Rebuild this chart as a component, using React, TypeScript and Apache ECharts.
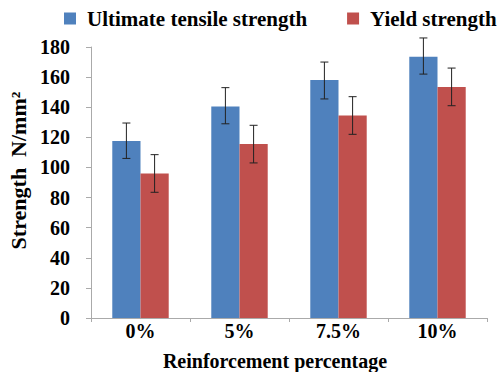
import React, { useEffect, useRef } from "react";
import * as echarts from "echarts";

const categories = ["0%", "5%", "7.5%", "10%"];
const utsValues = [117.5, 140.5, 158, 173.5];
const utsHigh = [129.5, 153, 170, 186];
const utsLow = [106, 129, 145.5, 162];
const ysValues = [96, 115.5, 134.5, 153.5];
const ysHigh = [108.5, 128, 147, 166];
const ysLow = [83.5, 103, 122, 141];

const FONT = "Liberation Serif";
const BLUE = "#4F81BD";
const RED = "#C0504D";
const CAT_GAP = 0.43;

function errorSeries(high: number[], low: number[], side: number) {
  return {
    type: "custom",
    silent: true,
    z: 10,
    data: categories.map((_, i) => [i, low[i], high[i]]),
    encode: { x: 0, y: [1, 2] },
    renderItem: (params: any, api: any) => {
      const idx = api.value(0);
      const band = api.size([1, 0])[0];
      const barW = (band * (1 - CAT_GAP)) / 2;
      const lo = api.coord([idx, api.value(1)]);
      const hi = api.coord([idx, api.value(2)]);
      const x = lo[0] + (side * barW) / 2;
      const cap = 4;
      const style = { stroke: "#222", lineWidth: 1 };
      return {
        type: "group",
        children: [
          { type: "line", shape: { x1: x, y1: hi[1], x2: x, y2: lo[1] }, style },
          { type: "line", shape: { x1: x - cap, y1: hi[1], x2: x + cap, y2: hi[1] }, style },
          { type: "line", shape: { x1: x - cap, y1: lo[1], x2: x + cap, y2: lo[1] }, style },
        ],
      };
    },
  };
}

const labelRich = { a: { fontFamily: FONT, fontWeight: "bold", fontSize: 20, color: "#000" } };

export default function App() {
  const ref = useRef<HTMLDivElement>(null);
  useEffect(() => {
    const chart = echarts.init(ref.current!, null, { renderer: "svg" });
    chart.setOption({
      animation: false,
      legend: {
        top: 8,
        left: 64,
        padding: 0,
        itemWidth: 12,
        itemHeight: 12,
        itemGap: 40,
        icon: "rect",
        textStyle: { fontFamily: FONT, fontWeight: "bold", fontSize: 21, color: "#000", padding: [0, 0, 0, 6] },
        data: ["Ultimate tensile strength", "Yield strength"],
      },
      grid: { left: 91, right: 15, top: 47, bottom: 54, outerBoundsMode: "none" },
      xAxis: {
        type: "category",
        data: categories,
        name: "Reinforcement percentage",
        nameLocation: "middle",
        nameGap: 33,
        nameTextStyle: { fontFamily: FONT, fontWeight: "bold", fontSize: 20, color: "#000", padding: [0, 28, 0, 0] },
        axisLine: { lineStyle: { color: "#aaa" } },
        axisTick: { show: true, length: 4, lineStyle: { color: "#aaa" } },
        axisLabel: { formatter: "{a|{value}}", rich: labelRich, margin: 3 },
      },
      yAxis: {
        type: "value",
        min: 0,
        max: 180,
        interval: 20,
        name: "Strength  N/mm²",
        nameLocation: "middle",
        nameGap: 62,
        nameTextStyle: { fontFamily: FONT, fontWeight: "bold", fontSize: 22, color: "#000", padding: [0, 0, 0, 24] },
        axisLine: { show: true, lineStyle: { color: "#aaa" } },
        axisTick: { show: true, length: 5, lineStyle: { color: "#aaa" } },
        splitLine: { show: false },
        axisLabel: { formatter: "{a|{value}}", rich: labelRich, margin: 21 },
      },
      series: [
        {
          name: "Ultimate tensile strength",
          type: "bar",
          data: utsValues,
          itemStyle: { color: BLUE },
          barGap: "0%",
          barCategoryGap: CAT_GAP * 100 + "%",
        },
        {
          name: "Yield strength",
          type: "bar",
          data: ysValues,
          itemStyle: { color: RED },
        },
        errorSeries(utsHigh, utsLow, -1),
        errorSeries(ysHigh, ysLow, 1),
      ],
    });
    return () => chart.dispose();
  }, []);
  return <div ref={ref} style={{ width: 502, height: 372, position: "absolute", left: 0, top: 0 }} />;
}
